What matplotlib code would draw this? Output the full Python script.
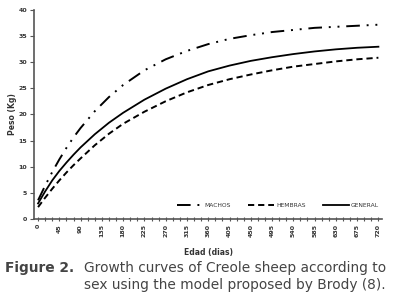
from matplotlib import pyplot as plt
from matplotlib.ticker import MultipleLocator

# ages (days) and weights (kg)
edad = [0, 15, 30, 45, 60, 75, 90, 120, 150, 180, 225, 270, 315, 360,
        405, 450, 495, 540, 585, 630, 675, 720]
machos = [3.6, 6.4, 9.0, 11.4, 13.6, 15.6, 17.4, 20.6, 23.3, 25.6, 28.4, 30.5,
          32.1, 33.4, 34.4, 35.1, 35.7, 36.1, 36.5, 36.7, 36.9, 37.1]
hembras = [2.3, 4.1, 5.8, 7.4, 8.9, 10.3, 11.6, 14.1, 16.3, 18.2, 20.5, 22.5,
           24.2, 25.6, 26.7, 27.6, 28.4, 29.1, 29.6, 30.1, 30.5, 30.8]
general = [3.0, 5.3, 7.4, 9.2, 10.8, 12.3, 13.7, 16.2, 18.4, 20.3, 22.8, 24.9,
           26.7, 28.2, 29.3, 30.2, 30.9, 31.5, 32.0, 32.4, 32.7, 32.9]

fig = plt.figure(figsize=(3.94, 2.97), dpi=100)
ax = fig.add_axes([0.087, 0.262, 0.883, 0.706])

ax.plot(edad, machos, color="black", lw=1.4,
        linestyle=(0, (7, 3.5, 1, 3.5, 1, 3.5)), label="MACHOS")
ax.plot(edad, hembras, color="black", lw=1.4,
        linestyle=(0, (3.2, 2)), label="HEMBRAS")
ax.plot(edad, general, color="black", lw=1.3, label="GENERAL")

ax.set_xlim(-8, 728)
ax.set_ylim(0, 40)
ax.xaxis.set_major_locator(MultipleLocator(45))
ax.xaxis.set_minor_locator(MultipleLocator(15))
ax.yaxis.set_major_locator(MultipleLocator(5))

for s in ["top", "right"]:
    ax.spines[s].set_visible(False)
for s in ["left", "bottom"]:
    ax.spines[s].set_color("#555555")
    ax.spines[s].set_linewidth(1.2)

ax.tick_params(axis="x", which="both", direction="inout", length=3,
               width=0.8, color="#555555", labelsize=4.5, labelrotation=90, pad=2)
ax.tick_params(axis="y", which="both", direction="out", length=3,
               width=0.8, color="#555555", labelsize=4.5, pad=2)
for lab in ax.get_xticklabels() + ax.get_yticklabels():
    lab.set_fontweight("bold")
    lab.set_color("#333333")

ax.set_xlabel("Edad (dias)", fontsize=5.5, fontweight="bold", color="#333333",
              labelpad=8)
ax.set_ylabel("Peso (Kg)", fontsize=5.5, fontweight="bold", color="#333333",
              labelpad=1.5)

ax.legend(loc="center", bbox_to_anchor=(0.70, 0.065), ncol=3, frameon=False,
          fontsize=4.3, handlelength=4.3, handletextpad=0.3, columnspacing=3,
          labelcolor="#333333")

fig.text(0.012, 0.098, "Figure 2.", fontsize=9.9, fontweight="bold",
         color="#444444", va="center")
fig.text(0.213, 0.098, "Growth curves of Creole sheep according to",
         fontsize=9.9, color="#444444", va="center")
fig.text(0.213, 0.04, "sex using the model proposed by Brody (8).",
         fontsize=9.9, color="#444444", va="center")

fig.savefig("out.png", dpi=100)
